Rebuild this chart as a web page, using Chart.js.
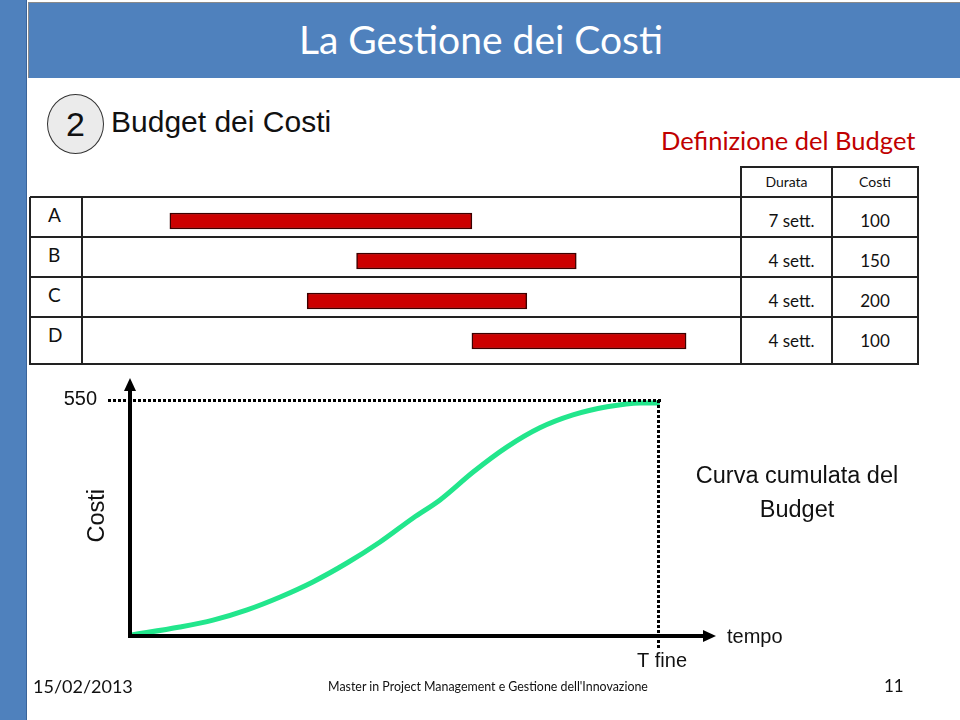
<!DOCTYPE html>
<html>
<head>
<meta charset="utf-8">
<script src="https://cdn.jsdelivr.net/npm/chart.js@4/dist/chart.umd.min.js"></script>
<style>
  body { margin: 0; width: 960px; height: 720px; overflow: hidden; background: #fff; position: relative; font-family: Lato, "Open Sans", sans-serif; }
  .abs { position: absolute; }
  .hl { position: absolute; height: 2px; background: #222; }
  .vl { position: absolute; width: 2px; background: #222; }
  .cell { position: absolute; font-family: Lato, sans-serif; color: #111; white-space: nowrap; }
</style>
</head>
<body>
<!-- slide frame -->
<div class="abs" style="left:0;top:0;width:26px;height:720px;background:#4f81bd;border-right:1px solid #3a649a;"></div>
<div class="abs" style="left:28px;top:2px;width:932px;height:75px;background:#4f81bd;border-top:1px solid #8a8a8a;border-left:1px solid #8a8a8a;"></div>
<div class="abs" style="left:0;top:15px;width:962px;text-align:center;color:#fff;font-size:39px;line-height:48px;">La Gestione dei Costi</div>

<div class="abs" style="left:47px;top:94px;width:55px;height:58px;border-radius:50%;background:#ebebeb;border:1px solid #333;text-align:center;font-family:Arial,'Liberation Sans',sans-serif;font-size:34px;line-height:58px;color:#111;">2</div>
<div class="abs" style="left:111px;top:104px;font-family:Arial,'Liberation Sans',sans-serif;font-size:30px;line-height:36px;color:#111;">Budget dei Costi</div>
<div class="abs" style="left:661px;top:124px;color:#c00000;font-size:25.5px;line-height:32px;">Definizione del Budget</div>

<div id="table"></div>

<div class="abs" style="left:82px;top:197px;width:659px;height:167px;">
  <canvas id="ganttChart" width="659" height="167"></canvas>
</div>

<div class="abs" style="left:0;top:360px;width:960px;height:320px;">
  <canvas id="curveChart" width="960" height="320"></canvas>
</div>

<div class="abs" style="left:682px;top:458px;width:230px;text-align:center;font-family:Arial,'Liberation Sans',sans-serif;font-size:23.5px;line-height:34px;color:#111;">Curva cumulata del<br>Budget</div>

<div class="abs" style="left:33px;top:675px;font-size:18px;line-height:22px;color:#111;">15/02/2013</div>
<div class="abs" style="left:0;top:677px;width:976px;text-align:center;font-size:12.4px;line-height:20px;color:#111;">Master in Project Management e Gestione dell'Innovazione</div>
<div class="abs" style="left:884px;top:675px;font-size:17px;line-height:22px;color:#111;">11</div>

<script>
// --- Gantt data (weeks) ---
const tasks = ['A', 'B', 'C', 'D'];
const taskStart = [1.6, 5.0, 4.1, 7.1];
const taskEnd = [7.1, 9.0, 8.1, 11.0];
const durations = ['7 sett.', '4 sett.', '4 sett.', '4 sett.'];
const costs = [100, 150, 200, 100];

// --- Cumulative budget curve ---
const curveWeeks = [0, 1.04, 1.73, 2.44, 3.13, 3.81, 4.52, 5.21, 5.9, 6.46, 7.15, 7.85, 8.54, 9.23, 9.94, 10.63, 11.04];
const curveCost = [2, 21, 37, 61, 91, 126, 170, 219, 275, 317, 382, 440, 485, 515, 534, 543, 543];
const budgetTotal = 550;
const tFine = 11;
const yTickLabels = ['550'];
const xTickLabels = ['T fine'];

// --- table grid ---
const table = document.getElementById('table');
const rowEdges = [197, 237, 277, 317, 364];
function addDiv(cls, style, text) {
    const d = document.createElement('div');
    d.className = cls;
    d.style.cssText = style;
    if (text !== undefined) d.textContent = text;
    table.appendChild(d);
}
rowEdges.forEach(y => addDiv('hl', `left:30px;top:${y - 1}px;width:889px;`));
addDiv('hl', 'left:741px;top:166px;width:178px;');
[30, 82, 741, 832, 918].forEach(x => addDiv('vl', `left:${x - 1}px;top:197px;height:168px;`));
[741, 832, 918].forEach(x => addDiv('vl', `left:${x - 1}px;top:166px;height:32px;`));
addDiv('cell', 'left:741px;top:172px;width:91px;text-align:center;font-size:14px;line-height:20px;', 'Durata');
addDiv('cell', 'left:832px;top:172px;width:86px;text-align:center;font-size:14px;line-height:20px;', 'Costi');
tasks.forEach((t, i) => {
    const top = rowEdges[i];
    addDiv('cell', `left:48px;top:${top + 7}px;font-size:19px;line-height:22px;`, t);
    addDiv('cell', `left:746px;top:${top + 13}px;width:91px;text-align:center;font-size:17px;line-height:22px;`, durations[i]);
    addDiv('cell', `left:832px;top:${top + 13}px;width:86px;text-align:center;font-size:17px;line-height:22px;`, String(costs[i]));
});

// --- Gantt chart ---
new Chart(document.getElementById('ganttChart'), {
    type: 'bar',
    data: {
        labels: tasks,
        datasets: [{
            data: tasks.map((t, i) => [taskStart[i], taskEnd[i]]),
            backgroundColor: '#cc0000',
            borderColor: '#3b0000',
            borderWidth: 1.5,
            borderSkipped: false,
            barThickness: 16
        }]
    },
    options: {
        indexAxis: 'y',
        responsive: false,
        animation: false,
        layout: { padding: { top: 4, bottom: 3, left: 0, right: 0 } },
        plugins: { legend: { display: false }, tooltip: { enabled: false } },
        scales: {
            x: { type: 'linear', min: 0, max: 12, display: false },
            y: { display: false }
        }
    }
});

// --- S-curve chart ---
const axesPlugin = {
    id: 'axesPlugin',
    afterDatasetsDraw(chart) {
        const ctx = chart.ctx;
        const xs = chart.scales.x, ys = chart.scales.y;
        const area = chart.chartArea;
        const x0 = xs.getPixelForValue(0), y0 = ys.getPixelForValue(0);
        const xT = Math.round(xs.getPixelForValue(tFine)), yB = Math.round(ys.getPixelForValue(budgetTotal));
        ctx.save();
        // dotted guides
        ctx.fillStyle = '#000';
        for (let x = 108; x <= xT; x += 5) ctx.fillRect(Math.round(x), yB - 1, 3, 3);
        for (let y = yB; y <= y0 + 9; y += 5) ctx.fillRect(xT - 1, Math.round(y), 3, 3);
        // axes with arrows
        ctx.strokeStyle = '#000';
        ctx.lineWidth = 4;
        ctx.beginPath();
        ctx.moveTo(x0, y0 + 2);
        ctx.lineTo(x0, area.top + 10);
        ctx.moveTo(x0 - 2, y0);
        ctx.lineTo(area.right - 10, y0);
        ctx.stroke();
        ctx.beginPath();
        ctx.moveTo(x0, area.top);
        ctx.lineTo(x0 - 6, area.top + 13);
        ctx.lineTo(x0 + 6, area.top + 13);
        ctx.closePath();
        ctx.fill();
        ctx.beginPath();
        ctx.moveTo(area.right, y0);
        ctx.lineTo(area.right - 13, y0 - 6);
        ctx.lineTo(area.right - 13, y0 + 6);
        ctx.closePath();
        ctx.fill();
        // labels
        ctx.fillStyle = '#111';
        ctx.font = '20px Arial, "Liberation Sans", sans-serif';
        ctx.textBaseline = 'middle';
        ctx.textAlign = 'right';
        ctx.fillText(yTickLabels[0], 97, yB - 1);
        ctx.textAlign = 'center';
        ctx.fillText(xTickLabels[0], xT + 4, y0 + 25);
        ctx.textAlign = 'left';
        ctx.fillText('tempo', area.right + 11, y0 + 1);
        ctx.translate(98, ys.getPixelForValue(280));
        ctx.rotate(-Math.PI / 2);
        ctx.textAlign = 'center';
        ctx.font = '23.5px Arial, "Liberation Sans", sans-serif';
        ctx.fillText('Costi', 0, 0);
        ctx.restore();
    }
};

new Chart(document.getElementById('curveChart'), {
    type: 'line',
    data: {
        datasets: [{
            data: curveWeeks.map((w, i) => ({ x: w, y: curveCost[i] })),
            borderColor: '#22e68c',
            borderWidth: 5,
            pointRadius: 0,
            cubicInterpolationMode: 'monotone',
            clip: false,
            fill: false
        }]
    },
    options: {
        responsive: false,
        animation: false,
        layout: { padding: { left: 130, right: 244, top: 18, bottom: 44 } },
        plugins: { legend: { display: false }, tooltip: { enabled: false } },
        scales: {
            x: { type: 'linear', min: 0, max: 12.21, display: false },
            y: { type: 'linear', min: 0, max: 601, display: false }
        }
    },
    plugins: [axesPlugin]
});
</script>
</body>
</html>
